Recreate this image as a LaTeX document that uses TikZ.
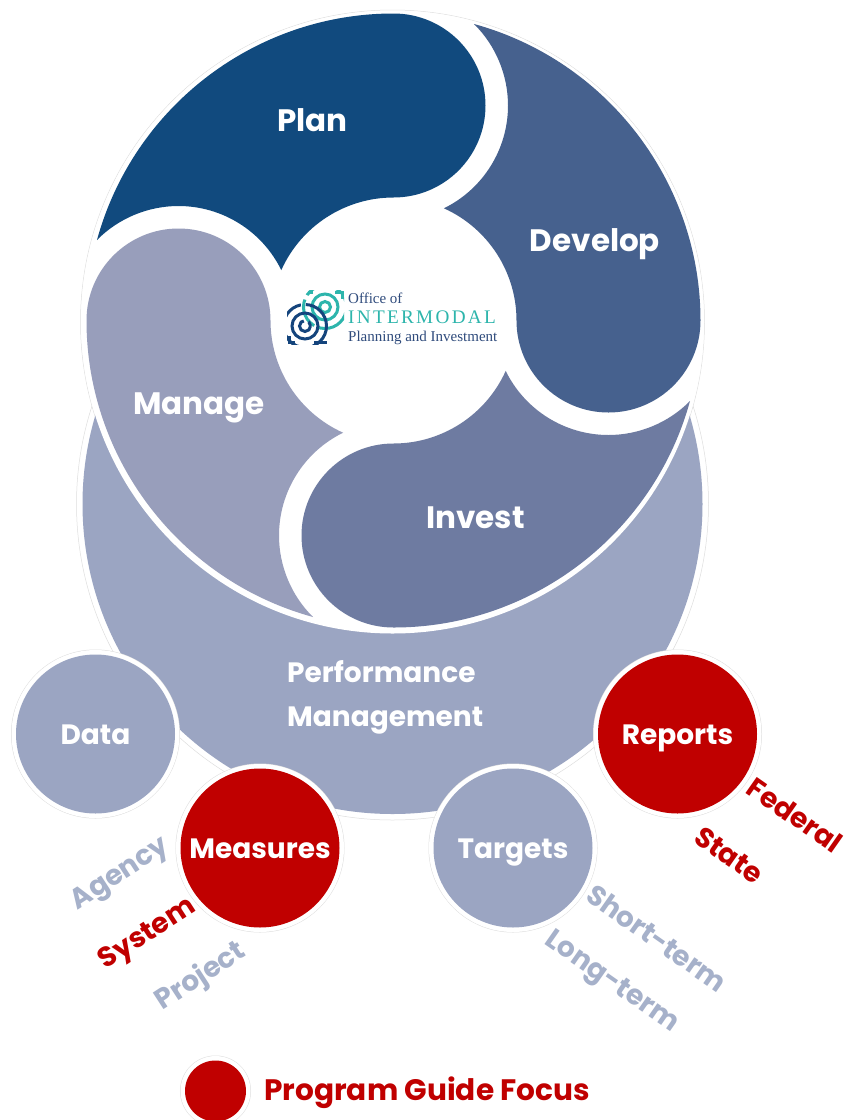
\documentclass[tikz,border=0pt]{standalone}
\usepackage{fontspec}
\setmainfont{Poppins}
\newfontfamily\logofont{Liberation Serif}
\newfontfamily\logowide[LetterSpace=12]{Liberation Serif}
\usepackage{xcolor}
\usepackage{tikz}
\definecolor{planblue}{HTML}{114A7E}
\definecolor{developblue}{HTML}{46618E}
\definecolor{investblue}{HTML}{6E7BA1}
\definecolor{manageblue}{HTML}{989EBB}
\definecolor{perfblue}{HTML}{9BA5C2}
\definecolor{focusred}{HTML}{C00000}
\definecolor{sidegrey}{HTML}{A6B1CA}
\definecolor{hairline}{HTML}{DEDEDE}
\definecolor{logoteal}{HTML}{2DB5AC}
\definecolor{logonavy}{HTML}{14447C}
\definecolor{logotext}{HTML}{2F4B7C}
% one petal of the wheel, the others are this one turned round the hub
\newcommand{\petalpath}{(97,240) .. controls (133.6,106.5) and (255.5,13.5) .. (393.5,13.5)
	.. controls (444.3,13.5) and (485.5,54.7) .. (485.5,105.5)
	.. controls (485.5,156.3) and (444.3,197.5) .. (393.5,197.5)
	.. controls (345.1,197.5) and (301.1,226) .. (281.3,270.1)
	.. controls (262.1,230.9) and (222.2,206) .. (178.5,206)
	.. controls (148,206) and (118.4,218.3) .. (97,240) -- cycle}
\begin{document}
\begin{tikzpicture}[
		x=1pt, y=-1pt,
		bigring/.style={circle, draw=hairline, line width=.5pt, fill=white, inner sep=0pt},
		spot/.style={circle, inner sep=0pt, minimum size=159pt, fill=#1, text=white, font=\fontsize{28}{28}\selectfont\bfseries,
			text height=22pt, text depth=2pt,
			preaction={draw=hairline, line width=10pt}, preaction={draw=white, line width=9pt}},
		petallabel/.style={text=white, font=\fontsize{31}{31}\selectfont\bfseries},
		sidelabel/.style={font=\fontsize{28}{28}\selectfont\bfseries, rotate=#1},
		logoring/.style={draw=#1, line width=3pt}
		]
		\useasboundingbox (0,0) rectangle (857,1120);
		\fill[white] (0,0) rectangle (857,1120);
		% Discs behind the wheel
		\coordinate (hub) at (393.5,320.5);
		\node[bigring, minimum size=632pt] (perfring) at (392.5,504) {};
		\node[bigring, minimum size=624pt] (wheelring) at (392.5,322) {};
		\node[circle, fill=perfblue, inner sep=0pt, minimum size=620pt] (perf) at (392.5,504) {};
		\node[circle, fill=white, inner sep=0pt, minimum size=623pt] (wheel) at (392.5,322) {};
		
		% Petals
		\fill[planblue] \petalpath;
		\fill[developblue, rotate around={-90:(hub)}] \petalpath;
		\fill[investblue, rotate around={-180:(hub)}] \petalpath;
		\fill[manageblue, rotate around={-270:(hub)}] \petalpath;
		\node[petallabel] (plan) at (312.5,120) {Plan};
		\node[petallabel] (develop) at (595,244) {Develop};
		\node[petallabel] (manage) at (199,408) {Manage};
		\node[petallabel] (invest) at (475.5,518) {Invest};
		
		% Logo
		\begin{scope}
			\clip (301,290) rectangle (344,332);
			\draw[logoring=logoteal, dash pattern=on 40pt off 5pt on 30pt off 5pt] (325,307) circle (21.5);
		\end{scope}
		\draw[logoring=logoteal] (325,307) circle (13);
		\draw[logoring=logoteal] (325,307) circle (5.5);
		\draw[logoring=logoteal] (335,292) -- (342,292) -- (342,299);
		\draw[logoring=logoteal] (313,292) -- (308,292);
		\begin{scope}
			\clip (287,302) rectangle (330,344);
			\draw[logoring=logonavy, dash pattern=on 26pt off 5pt on 34pt off 6pt] (305,326) circle (21.5);
		\end{scope}
		\draw[logoring=logonavy] (305,326) circle (13);
		\draw[logoring=logonavy, dash pattern=on 24pt off 5pt] (305,326) circle (5.5);
		\draw[logoring=logonavy] (289,336) -- (289,342) -- (295,342);
		\draw[logoring=logonavy] (314,342) -- (327,342);
		\node[anchor=west, inner sep=0pt, text=logotext, font=\fontsize{15}{15}\logofont] (logoa) at (348,298) {Office of};
		\node[anchor=west, inner sep=0pt, text=logoteal, font=\fontsize{19.2}{19.2}\logowide] (logob) at (348,317) {INTERMODAL};
		\node[anchor=west, inner sep=0pt, text=logotext, font=\fontsize{15}{15}\logofont] (logoc) at (348,338) {Planning and Investment};
		
		% Performance management and its four spots
		\node[text=white, align=left, anchor=west, inner sep=0pt, font=\fontsize{28}{44}\selectfont\bfseries] (perflabel) at (287,697.5) {Performance\\Management};
		\node[spot=perfblue] (data) at (95.5,734) {Data};
		\node[spot=focusred] (measures) at (260,848) {Measures};
		\node[spot=perfblue] (targets) at (513,848) {Targets};
		\node[spot=focusred] (reports) at (677.5,734) {Reports};
		
		% Labels round the spots
		\node[sidelabel=33, text=sidegrey] (agency) at (121,875) {Agency};
		\node[sidelabel=33, text=focusred] (system) at (148,935) {System};
		\node[sidelabel=33, text=sidegrey] (project) at (201,977) {Project};
		\node[sidelabel=-35, text=sidegrey] (shortterm) at (657,938) {Short-term};
		\node[sidelabel=-35, text=sidegrey] (longterm) at (611,983) {Long-term};
		\node[sidelabel=-35, text=focusred] (federal) at (795,815) {Federal};
		\node[sidelabel=-35, text=focusred] (state) at (729,855) {State};
		
		% Legend
		\node[spot=focusred, minimum size=61pt] (legend) at (215.5,1091) {};
		\node[anchor=west, inner sep=0pt, text=focusred, font=\fontsize{29.6}{29.6}\selectfont\bfseries] (legendlabel) at (264,1093) {Program Guide Focus};
	\end{tikzpicture}
\end{document}
